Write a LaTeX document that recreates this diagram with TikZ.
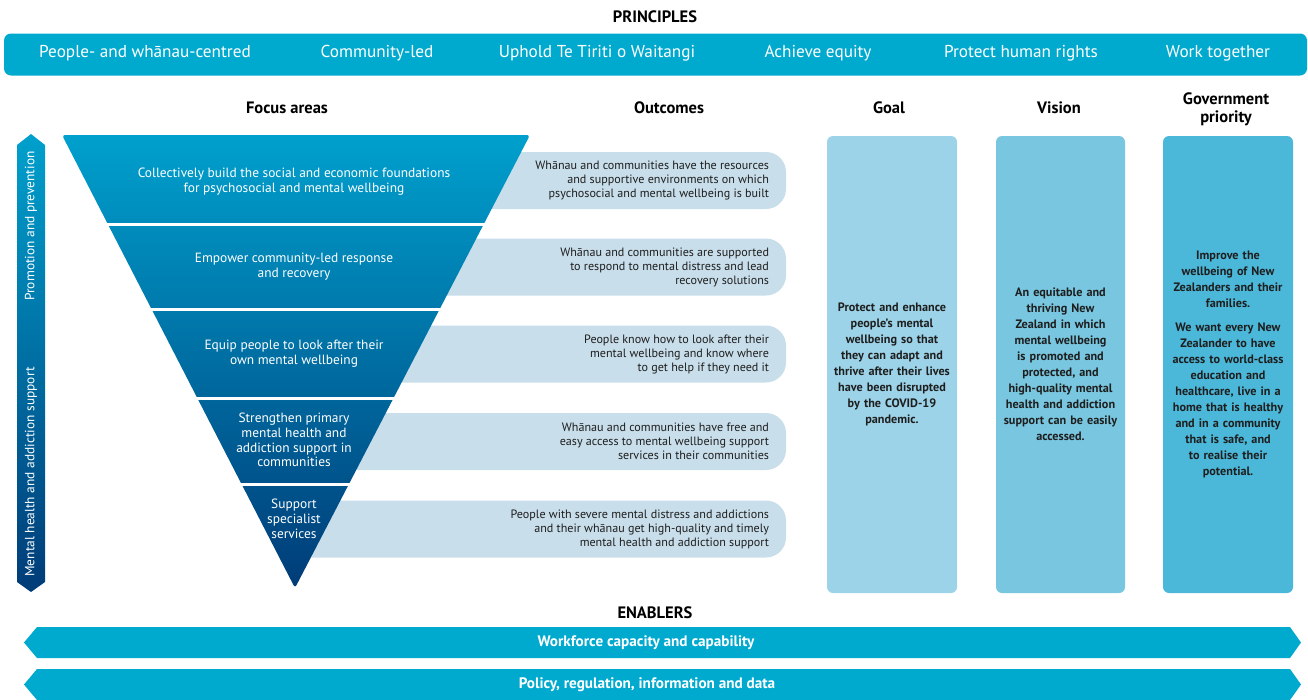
\documentclass[tikz,border=0pt]{standalone}
\usepackage{fontspec}
\setmainfont{PT Sans}
\usetikzlibrary{shapes,arrows,positioning}
\definecolor{princ}{RGB}{0,170,207}
\definecolor{outc}{RGB}{200,222,234}
\definecolor{goalc}{RGB}{156,211,232}
\definecolor{visionc}{RGB}{120,198,223}
\definecolor{govc}{RGB}{75,183,217}
\definecolor{darktext}{RGB}{30,30,30}
\definecolor{ftop}{RGB}{0,160,205}
\definecolor{fbot}{RGB}{0,60,120}
\tikzstyle{princtext} = [text=white, font=\fontsize{17.2}{20}\selectfont]
\tikzstyle{heading}   = [text=black, align=center, font=\bfseries\fontsize{16.5}{18}\selectfont]
\tikzstyle{tiertext}  = [text=white, align=center, font=\fontsize{13.4}{14.7}\selectfont]
\tikzstyle{outbox}    = [fill=outc, rounded corners=20pt, minimum width=504pt, minimum height=57pt]
\tikzstyle{outtext}   = [text=darktext, align=right, anchor=east, inner sep=0pt, font=\fontsize{12.1}{14}\selectfont]
\tikzstyle{colbox}    = [rounded corners=6pt, minimum height=457pt, text width=124pt, align=center, inner sep=0pt, text=darktext, font=\bfseries\fontsize{12.2}{16}\selectfont]
\tikzstyle{enabtext}  = [text=white, font=\bfseries\fontsize{15.2}{17}\selectfont]
\tikzstyle{sidetext}  = [text=white, rotate=90, font=\fontsize{13.4}{15}\selectfont]

\begin{document}
\begin{tikzpicture}[x=1pt, y=-1pt]
	\useasboundingbox (0,0) rectangle (1308,699);

		% Principles %

		\node [heading] (principles) at (655,17) {PRINCIPLES};
		\node [fill=princ, rounded corners=7pt, minimum width=1303pt, minimum height=42pt] (pbar) at (655.5,54.5) {};
		\node [princtext] (p1) at (145,53) {People- and whānau-centred};
		\node [princtext] (p2) at (377,53) {Community-led};
		\node [princtext] (p3) at (597,53) {Uphold Te Tiriti o Waitangi};
		\node [princtext] (p4) at (818,53) {Achieve equity};
		\node [princtext] (p5) at (1021,53) {Protect human rights};
		\node [princtext] (p6) at (1218,53) {Work together};

		% Headings %

		\node [heading] (focus) at (287,108) {Focus areas};
		\node [heading] (outcomes) at (669,108) {Outcomes};
		\node [heading] (goalh) at (889,108) {Goal};
		\node [heading] (visionh) at (1059,108) {Vision};
		\node [heading] (govh) at (1226,109) {Government\\priority};

		% Side arrow %

		\shade [top color=ftop, bottom color=fbot] (17,145) -- (31,134) -- (45,145) -- (45,582) -- (31,592) -- (17,582) -- cycle;
		\node [sidetext] (promo) at (31,226) {Promotion and prevention};
		\node [sidetext] (support) at (31,472) {Mental health and addiction support};

		% Outcomes %

		\node [outbox] (o1box) at (534,180.5) {};
		\node [outbox] (o2box) at (534,267) {};
		\node [outbox] (o3box) at (534,354) {};
		\node [outbox] (o4box) at (534,441.5) {};
		\node [outbox] (o5box) at (534,529) {};
		\node [outtext] (o1) at ([xshift=-17pt]o1box.east) {Whānau and communities have the resources\\and supportive environments on which\\psychosocial and mental wellbeing is built};
		\node [outtext] (o2) at ([xshift=-17pt]o2box.east) {Whānau and communities are supported\\to respond to mental distress and lead\\recovery solutions};
		\node [outtext] (o3) at ([xshift=-17pt]o3box.east) {People know how to look after their\\mental wellbeing and know where\\to get help if they need it};
		\node [outtext] (o4) at ([xshift=-17pt]o4box.east) {Whānau and communities have free and\\easy access to mental wellbeing support\\services in their communities};
		\node [outtext] (o5) at ([xshift=-17pt]o5box.east) {People with severe mental distress and addictions\\and their whānau get high-quality and timely\\mental health and addiction support};

		% Focus areas %

		\shade [top color=ftop, bottom color=fbot, rounded corners=3pt] (62,135) -- (530,135) -- (295,588) -- cycle;
		\foreach \gy in {223,308,397,483}
			\fill [white] (55,\gy) rectangle (545,\gy+3);
		% 1 =======================================%
		\node [tiertext] (t1) at (294,181.5) {Collectively build the social and economic foundations\\for psychosocial and mental wellbeing};
		% 2 =======================================%
		\node [tiertext] (t2) at (294,266.5) {Empower community-led response\\and recovery};
		% 3 =======================================%
		\node [tiertext] (t3) at (294,353.5) {Equip people to look after their\\own mental wellbeing};
		% 4 =======================================%
		\node [tiertext] (t4) at (294,440) {Strengthen primary\\mental health and\\addiction support in\\communities};
		% 5 =======================================%
		\node [tiertext] (t5) at (294,519) {Support\\specialist\\services};

		% Goal, vision, priority %

		\node [colbox, fill=goalc, minimum width=130pt] (goal) at (892,364.5) {Protect and enhance\\people's mental\\wellbeing so that\\they can adapt and\\thrive after their lives\\have been disrupted\\by the COVID-19\\pandemic.};
		\node [colbox, fill=visionc, minimum width=129pt] (vision) at (1060.5,364.5) {An equitable and\\thriving New\\Zealand in which\\mental wellbeing\\is promoted and\\protected, and\\high-quality mental\\health and addiction\\support can be easily\\accessed.};
		\node [colbox, fill=govc, minimum width=130pt] (gov) at (1228,364.5) {Improve the\\wellbeing of New\\Zealanders and their\\families.\\[8pt]We want every New\\Zealander to have\\access to world-class\\education and\\healthcare, live in a\\home that is healthy\\and in a community\\that is safe, and\\to realise their\\potential.};

		% Enablers %

		\node [heading] (enablers) at (655,613) {ENABLERS};
		\fill [princ] (37,627) -- (1290,627) -- (1301,642.5) -- (1290,658) -- (37,658) -- (24,642.5) -- cycle;
		\fill [princ] (37,669) -- (1290,669) -- (1301,684.5) -- (1290,700) -- (37,700) -- (24,684.5) -- cycle;
		\node [enabtext] (e1) at (646,642.5) {Workforce capacity and capability};
		\node [enabtext] (e2) at (647,684.5) {Policy, regulation, information and data};
	\end{tikzpicture}
\end{document}
